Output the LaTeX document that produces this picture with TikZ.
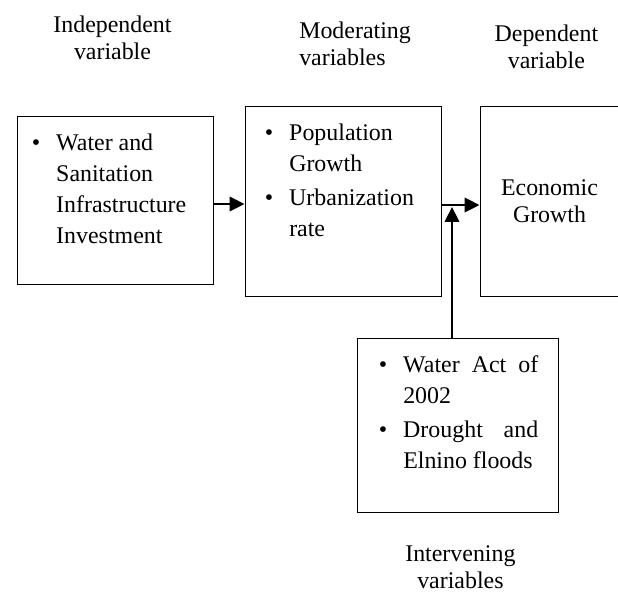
\documentclass[tikz,border=0pt]{standalone}
\usepackage{fontspec}
\setmainfont{Liberation Serif}
\usetikzlibrary{arrows.meta}
\newcommand{\bitems}[1]{\begin{tabular}[t]{@{}l@{\hspace{0.4cm}}l@{}}#1\end{tabular}}

\begin{document}
\begin{tikzpicture}[font=\fontsize{17}{22.2}\selectfont,
  box/.style={draw, line width=0.7pt, minimum width=#1, inner sep=0pt},
  head/.style={align=center, inner sep=0pt, font=\fontsize{17}{19.2}\selectfont},
  items/.style={anchor=base west, inner sep=0pt},
  arr/.style={-{Triangle[length=0.37cm, width=0.36cm]}, line width=1.4pt}
]
  \useasboundingbox (0,0) rectangle (15.45,-14.825);
  \clip (0,0) rectangle (15.45,-14.825);
  \node[head] (indepT) at (2.8125,-0.94) {Independent\\variable};
  \node[head, align=left, anchor=west] (moderT) at (7.475,-1.085) {Moderating\\variables};
  \node[head] (depenT) at (13.66,-1.17) {Dependent\\variable};
  \node[head] (interT) at (11.51,-14.17) {Intervening\\variables};
  \node[box=4.9cm, minimum height=4.2cm]   (indep) at (2.875,-5.0) {};
  \node[box=4.9cm, minimum height=4.75cm]  (moder) at (8.575,-5.025) {};
  \node[box=3.475cm, minimum height=4.75cm, head] (depen) at (13.7375,-5.025) {Economic\\Growth};
  \node[box=5.025cm, minimum height=4.35cm] (inter) at (11.4375,-10.625) {};
  % listes
  \node[items] (indepL) at (0.79,-3.75)
        {\bitems{\textbullet & Water and\\ & Sanitation\\ & Infrastructure\\ & Investment}};
  \node[items] (moderL) at (6.615,-3.5)
        {\bitems{\textbullet & Population\\ & Growth\\[2pt] \textbullet & Urbanization\\ & rate}};
  \node[items] (interL) at (9.465,-9.3)
        {\bitems{\textbullet & \makebox[3.375cm][s]{Water Act of}\\ & 2002\\[2pt]
                 \textbullet & \makebox[3.375cm][s]{Drought and}\\ & Elnino floods}};
  % flèches
  \coordinate (meet) at ([yshift=-0.15cm]moder.east);
  \draw[arr] ([yshift=-0.1cm]indep.east) -- ([yshift=-0.1cm]indep.east -| moder.west);
  \draw[arr] ([yshift=-0.1cm]moder.east) -- ([yshift=-0.1cm]moder.east -| depen.west);
  \draw[arr] ([xshift=-0.1375cm]inter.north) -- ([xshift=-0.1375cm]inter.north |- meet);
\end{tikzpicture}
\end{document}
